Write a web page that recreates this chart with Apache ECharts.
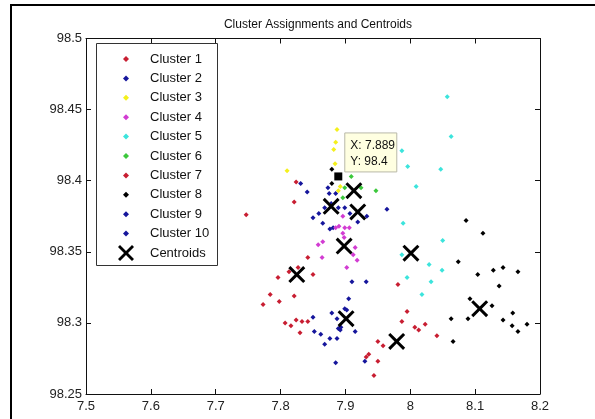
<!DOCTYPE html>
<html><head><meta charset="utf-8">
<script src="https://cdn.jsdelivr.net/npm/echarts@6/dist/echarts.min.js"></script>
<style>html,body{margin:0;padding:0;background:#fff}#c{width:595px;height:419px}</style>
</head><body><div id="c"></div>
<script>
// ---- data ----
const title = 'Cluster Assignments and Centroids';
const xMin = 7.5, xMax = 8.2, xStep = 0.1;
const yMin = 98.25, yMax = 98.5, yStep = 0.05;

const c1x = [7.842,7.850,7.827,7.813,7.796,7.784,7.798,7.773,7.821,7.807,7.816,7.824,7.833,7.842,7.830];
const c1y = [98.346,98.334,98.339,98.336,98.332,98.320,98.315,98.313,98.319,98.300,98.298,98.302,98.301,98.301,98.293];
const c2x = [7.831,7.841,7.873,7.875,7.885,7.878,7.868,7.850,7.859,7.865,7.876,7.881,7.889,7.899,7.907,7.919,7.933,7.964];
const c2y = [98.398,98.392,98.395,98.391,98.391,98.384,98.381,98.374,98.377,98.370,98.366,98.367,98.381,98.381,98.377,98.371,98.375,98.380];
const c3x = [7.887,7.885,7.882,7.884,7.810,7.892,7.889];
const c3y = [98.436,98.427,98.422,98.412,98.407,98.396,98.393];
const c4x = [7.890,7.899,7.906,7.885,7.896,7.898,7.858,7.865,7.915,7.912,7.918,7.864,7.902,7.896];
const c4y = [98.368,98.367,98.367,98.367,98.363,98.360,98.355,98.357,98.353,98.348,98.344,98.346,98.339,98.375];
const c5x = [8.057,8.063,7.987,7.996,8.047,8.009,7.989,8.050,7.987,8.029,8.049,7.995,8.032,8.018];
const c5y = [98.459,98.431,98.421,98.410,98.408,98.396,98.370,98.358,98.348,98.341,98.337,98.332,98.329,98.320];
const c6x = [7.909,7.924,7.947,7.899,7.896];
const c6y = [98.403,98.395,98.393,98.395,98.388];
const c7x = [7.824,7.821,7.747,7.950,7.958,7.936,7.950,7.932,7.944,7.981,7.995,7.987,8.007,8.013,8.023,8.041];
const c7y = [98.399,98.385,98.376,98.287,98.284,98.278,98.273,98.276,98.263,98.327,98.308,98.301,98.297,98.295,98.299,98.291];
const c8x = [7.879,7.879,8.086,8.112,8.074,8.104,8.128,8.143,8.166,8.137,8.092,8.126,8.063,8.089,8.143,8.158,8.157,8.166,8.180,8.066];
const c8y = [98.408,98.398,98.372,98.363,98.343,98.334,98.337,98.339,98.336,98.326,98.317,98.312,98.303,98.303,98.302,98.307,98.298,98.294,98.299,98.287];
const c9x = [7.902,7.899,7.879,7.887,7.889,7.892,7.893,7.915,7.850,7.852,7.862,7.876,7.868,7.887,7.885,7.930];
const c9y = [98.309,98.310,98.307,98.303,98.296,98.295,98.297,98.294,98.304,98.294,98.292,98.289,98.285,98.289,98.272,98.273];
const c10x = [7.910,7.932,7.905];
const c10y = [98.329,98.329,98.317];
const cenX = [7.913,7.878,7.919,7.898,7.825,8.001,7.901,7.979,8.107];
const cenY = [98.393,98.382,98.378,98.354,98.334,98.349,98.303,98.287,98.310];
const tipX = 7.889, tipY = 98.403, tipLabelX = '7.889', tipLabelY = '98.4';

const names = ['Cluster 1','Cluster 2','Cluster 3','Cluster 4','Cluster 5','Cluster 6','Cluster 7','Cluster 8','Cluster 9','Cluster 10'];
const xs = [c1x,c2x,c3x,c4x,c5x,c6x,c7x,c8x,c9x,c10x];
const ys = [c1y,c2y,c3y,c4y,c5y,c6y,c7y,c8y,c9y,c10y];
const colors = ['#c81e32','#16169c','#f4f01c','#d23cd2','#3ce4dc','#3cc83c','#c81e32','#000000','#16169c','#16169c'];

const zip = (a,b) => a.map((v,i)=>[v,b[i]]);
const X_PATH = 'path://M0,1.25 L1.25,0 L5,3.75 L8.75,0 L10,1.25 L6.25,5 L10,8.75 L8.75,10 L5,6.25 L1.25,10 L0,8.75 L3.75,5 Z';
const FONT = 'Liberation Sans, Arial, sans-serif';
const fmt = v => String(+v.toFixed(2));

const chart = echarts.init(document.getElementById('c'), null, {renderer:'canvas'});
const series = names.map((n,i)=>({
  name:n, type:'scatter', data: zip(xs[i],ys[i]), symbol:'diamond', symbolSize:5,
  itemStyle:{color:colors[i], opacity:1}, emphasis:{disabled:true}, z:2
}));
series.push({name:'Centroids', type:'scatter', data: zip(cenX,cenY), symbol:X_PATH, symbolSize:17,
  itemStyle:{color:'#000', opacity:1}, emphasis:{disabled:true}, z:3});
series.push({name:'tip', type:'scatter', data:[[tipX,tipY]], symbol:'rect', symbolSize:8,
  itemStyle:{color:'#000', opacity:1}, emphasis:{disabled:true}, z:4});

const axisCommon = {
  type:'value', scale:false,
  axisLine:{show:true, lineStyle:{color:'#111', width:1}},
  axisTick:{show:true, inside:true, length:5, lineStyle:{color:'#111'}},
  splitLine:{show:false}
};

chart.setOption({
  animation:false,
  backgroundColor:'#fff',
  title:{text:title, left:313, textAlign:'center', top:14,
    textStyle:{fontFamily:FONT, fontSize:12, fontWeight:'normal', color:'#111'}},
  grid:{left:86, right:55, top:38.5, bottom:25, containLabel:false},
  xAxis:[
    Object.assign({}, axisCommon, {min:xMin, max:xMax, interval:xStep, position:'bottom',
      axisLabel:{formatter:fmt, fontFamily:FONT, fontSize:13, color:'#222', margin:6}}),
    Object.assign({}, axisCommon, {min:xMin, max:xMax, interval:xStep, position:'top',
      axisLabel:{show:false}})
  ],
  yAxis:[
    Object.assign({}, axisCommon, {min:yMin, max:yMax, interval:yStep, position:'left',
      axisLabel:{formatter:fmt, fontFamily:FONT, fontSize:13, color:'#222', margin:4}}),
    Object.assign({}, axisCommon, {min:yMin, max:yMax, interval:yStep, position:'right',
      axisLabel:{show:false}})
  ],
  legend:[
    {data:names, orient:'vertical', left:123, top:52, padding:0, itemGap:5.4,
     itemWidth:6, itemHeight:6, selectedMode:false, icon:'diamond',
     textStyle:{fontFamily:FONT, fontSize:13, color:'#111', lineHeight:14, padding:[0,0,0,16]}, z:6},
    {data:['Centroids'], orient:'vertical', left:118, top:245, padding:0,
     itemWidth:16, itemHeight:16, selectedMode:false,
     textStyle:{fontFamily:FONT, fontSize:13, color:'#111', lineHeight:14, padding:[0,0,0,11]}, z:6}
  ],
  series: series
});

const p = chart.convertToPixel({xAxisIndex:0, yAxisIndex:0}, [tipX, tipY]);
const bx = p[0] + 6, by = p[1] - 44;
chart.setOption({
  graphic:[
    {type:'rect', shape:{x:10, y:4, width:2, height:415}, style:{fill:'#000'}, z:10},
    {type:'rect', shape:{x:10, y:4, width:585, height:2}, style:{fill:'#000'}, z:10},
    {type:'rect', shape:{x:96.5, y:43.5, width:121, height:222}, style:{fill:'#fff', stroke:'#333', lineWidth:1}, z:5},
    {type:'rect', shape:{x:bx+0.5, y:by+0.5, width:52, height:39}, style:{fill:'#ffffe1', stroke:'#b8b8a8', lineWidth:1}, z:7},
    {type:'text', x:bx+6, y:by+5, style:{text:'X: '+tipLabelX+'\nY: '+tipLabelY, fontFamily:FONT, fontSize:12, lineHeight:16, fill:'#111'}, z:8}
  ]
});
</script></body></html>
